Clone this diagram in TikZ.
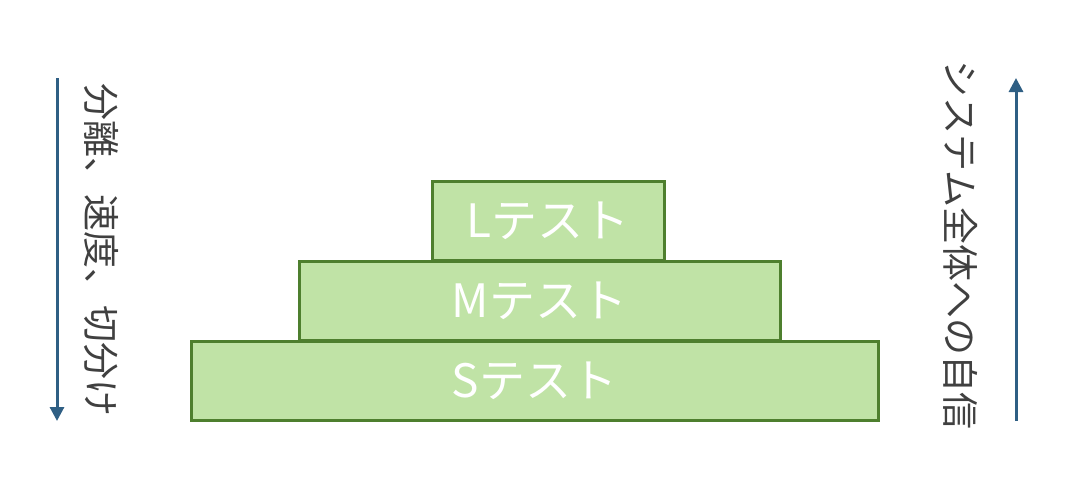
\documentclass[tikz,border=0pt]{standalone}
\usepackage{xcolor}
\usepackage{fontspec}
\setmainfont{Noto Sans CJK JP}
\usepackage{tikz}
\usetikzlibrary{arrows.meta}
\definecolor{boxfill}{HTML}{C0E3A6}
\definecolor{boxline}{HTML}{4E7F2E}
\definecolor{arrowblue}{HTML}{2F5F84}
\tikzset{
  testbox/.style={draw=boxline, fill=boxfill, line width=1.5pt, minimum height=39.5pt,
    inner sep=0pt, text=white, font=\fontsize{23}{23}\selectfont},
  sidearrow/.style={arrowblue, line width=1.5pt, -{Triangle[length=7pt,width=7pt]}},
  sidetext/.style={rotate=-90, text=black!75, font=\fontsize{18.5}{18.5}\selectfont}
}

\begin{document}
\begin{tikzpicture} [x=0.5pt, y=-0.5pt]
\useasboundingbox (0,0) rectangle (1078,478);
\node[testbox, minimum width=343.5pt] (stest) at (534.5,380.5) {Sテスト};
\node[testbox, minimum width=240.5pt] (mtest) at (539.5,300.5) {Mテスト};
\node[testbox, minimum width=116pt] (ltest) at (548,220.5) {Lテスト};
% left side: arrow pointing down
\coordinate (lefttop) at (57,78);
\coordinate (leftbottom) at (57,421);
\draw[sidearrow] (lefttop)--(leftbottom);
\node[sidetext] (lefttext) at (101,250) {分離、速度、切分け};
% right side: arrow pointing up
\coordinate (rightbottom) at (1016,421);
\coordinate (righttop) at (1016,78);
\draw[sidearrow] (rightbottom)--(righttop);
\node[sidetext] (righttext) at (961,245) {システム全体への自信};
\end{tikzpicture}
\end{document}
